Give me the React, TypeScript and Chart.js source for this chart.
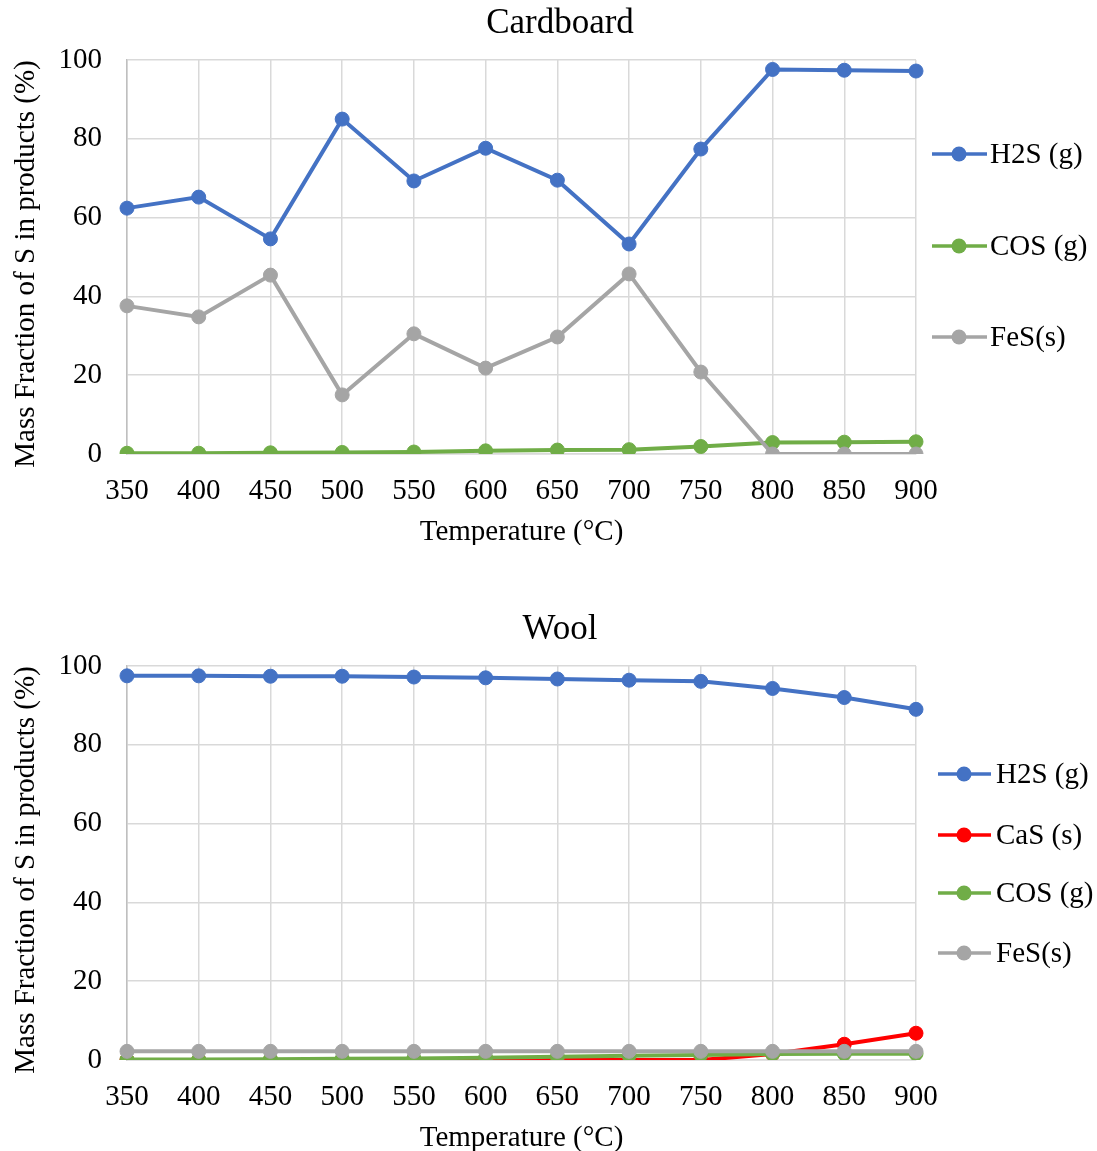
import React, { useEffect, useRef } from 'react';
import { Chart, registerables } from 'chart.js';

Chart.register(...registerables);

const temperatures = ['350', '400', '450', '500', '550', '600', '650', '700', '750', '800', '850', '900'];

const cardboardH2S = [62.4, 65.2, 54.6, 85.0, 69.3, 77.6, 69.5, 53.3, 77.4, 97.6, 97.4, 97.2];
const cardboardCOS = [0.2, 0.2, 0.3, 0.4, 0.5, 0.8, 1.0, 1.1, 1.9, 2.9, 3.0, 3.1];
const cardboardFeS = [37.6, 34.8, 45.4, 15.0, 30.5, 21.8, 29.7, 45.7, 20.8, 0, 0, 0];

const woolH2S = [97.5, 97.5, 97.4, 97.4, 97.2, 97.0, 96.7, 96.4, 96.1, 94.3, 92.0, 89.0];
const woolCaS = [0, 0, 0, 0, 0, 0, 0, 0, 0, 1.5, 4.0, 6.8];
const woolCOS = [0.1, 0.1, 0.2, 0.3, 0.4, 0.6, 0.8, 1.1, 1.3, 1.5, 1.6, 1.6];
const woolFeS = [2.2, 2.2, 2.2, 2.2, 2.2, 2.2, 2.2, 2.2, 2.2, 2.2, 2.2, 2.2];

const yTicks = [0, 20, 40, 60, 80, 100];

const xAxisTitle = 'Temperature (°C)';
const yAxisTitle = 'Mass Fraction of S in products (%)';

const BLUE = '#4472c4';
const GREEN = '#70ad47';
const GRAY = '#a5a5a5';
const RED = '#ff0000';
const FONT = '"Liberation Serif", "Times New Roman", serif';

type Series = { label: string; data: number[]; color: string };

type LegendLayout = { lineX0: number; lineX1: number; dotX: number; textX: number; ys: number[] };

const W = 1097;
const H = 545;

function LineChart(props: { title: string; series: Series[]; legend: LegendLayout }) {
  const ref = useRef<HTMLCanvasElement | null>(null);
  useEffect(() => {
    const { title, series, legend } = props;
    const overlay = {
      id: 'overlay',
      afterDraw(chart: any) {
        const ctx = chart.ctx as CanvasRenderingContext2D;
        const area = chart.chartArea;
        ctx.save();
        ctx.fillStyle = '#000';
        // chart title
        ctx.font = `35px ${FONT}`;
        ctx.textAlign = 'center';
        ctx.textBaseline = 'alphabetic';
        ctx.fillText(title, 560, 33);
        // axis titles
        ctx.font = `29px ${FONT}`;
        ctx.fillText(xAxisTitle, (area.left + area.right) / 2, 540);
        ctx.save();
        ctx.translate(34, 264);
        ctx.rotate(-Math.PI / 2);
        ctx.fillText(yAxisTitle, 0, 0);
        ctx.restore();
        // legend
        ctx.textAlign = 'left';
        ctx.textBaseline = 'middle';
        series.forEach((s, i) => {
          const y = area.top + legend.ys[i];
          ctx.strokeStyle = s.color;
          ctx.lineWidth = 3.5;
          ctx.beginPath();
          ctx.moveTo(legend.lineX0, y);
          ctx.lineTo(legend.lineX1, y);
          ctx.stroke();
          ctx.fillStyle = s.color;
          ctx.beginPath();
          ctx.arc(legend.dotX, y, 7.5, 0, Math.PI * 2);
          ctx.fill();
          ctx.fillStyle = '#000';
          ctx.fillText(s.label, legend.textX, y + 1);
        });
        ctx.restore();
      },
    };
    const n = series.length;
    const chart = new Chart(ref.current as HTMLCanvasElement, {
      type: 'line',
      data: {
        labels: temperatures,
        datasets: series.map((s, i) => ({
          label: s.label,
          data: s.data,
          borderColor: s.color,
          backgroundColor: s.color,
          pointBackgroundColor: s.color,
          pointBorderColor: s.color,
          pointBorderWidth: 1,
          pointRadius: 7,
          borderWidth: 4,
          tension: 0,
          order: n - i,
        })),
      },
      options: {
        responsive: false,
        animation: false,
        layout: { padding: { top: 60, right: W - 916, left: 0, bottom: 0 } },
        plugins: {
          legend: { display: false },
          title: { display: false },
          tooltip: { enabled: false },
        },
        scales: {
          x: {
            type: 'category',
            offset: false,
            grid: { color: '#d9d9d9', lineWidth: 1.5, drawTicks: false, offset: false },
            border: { color: '#d9d9d9', width: 1.5 },
            ticks: { color: '#000', font: { family: FONT, size: 29 }, padding: 20, maxRotation: 0, autoSkip: false },
            title: { display: false },
            afterFit(scale: any) {
              scale.height = H - 60 - 394;
            },
          },
          y: {
            min: 0,
            max: 100,
            grid: { color: '#d9d9d9', lineWidth: 1.5, drawTicks: false },
            border: { color: '#bfbfbf', width: 1.5 },
            afterBuildTicks(scale: any) {
              scale.ticks = yTicks.map((v) => ({ value: v }));
            },
            ticks: { color: '#000', font: { family: FONT, size: 29 }, padding: 25 },
            title: { display: false },
            afterFit(scale: any) {
              scale.width = 127;
            },
          },
        },
      },
      plugins: [overlay],
    } as any);
    return () => chart.destroy();
  }, []);
  return <canvas ref={ref} width={W} height={H} style={{ display: 'block', width: W, height: H }} />;
}

const cardboardSeries: Series[] = [
  { label: 'H2S (g)', data: cardboardH2S, color: BLUE },
  { label: 'COS (g)', data: cardboardCOS, color: GREEN },
  { label: 'FeS(s)', data: cardboardFeS, color: GRAY },
];

const woolSeries: Series[] = [
  { label: 'H2S (g)', data: woolH2S, color: BLUE },
  { label: 'CaS (s)', data: woolCaS, color: RED },
  { label: 'COS (g)', data: woolCOS, color: GREEN },
  { label: 'FeS(s)', data: woolFeS, color: GRAY },
];

export default function App() {
  return (
    <div style={{ position: 'absolute', left: 0, top: 0, width: W, height: 1151, background: '#fff' }}>
      <div style={{ position: 'absolute', left: 0, top: 0 }}>
        <LineChart
          title="Cardboard"
          series={cardboardSeries}
          legend={{ lineX0: 932, lineX1: 987, dotX: 959, textX: 990, ys: [94, 186, 277] }}
        />
      </div>
      <div style={{ position: 'absolute', left: 0, top: 606 }}>
        <LineChart
          title="Wool"
          series={woolSeries}
          legend={{ lineX0: 938, lineX1: 991, dotX: 964, textX: 996, ys: [108, 169, 227, 287] }}
        />
      </div>
    </div>
  );
}
